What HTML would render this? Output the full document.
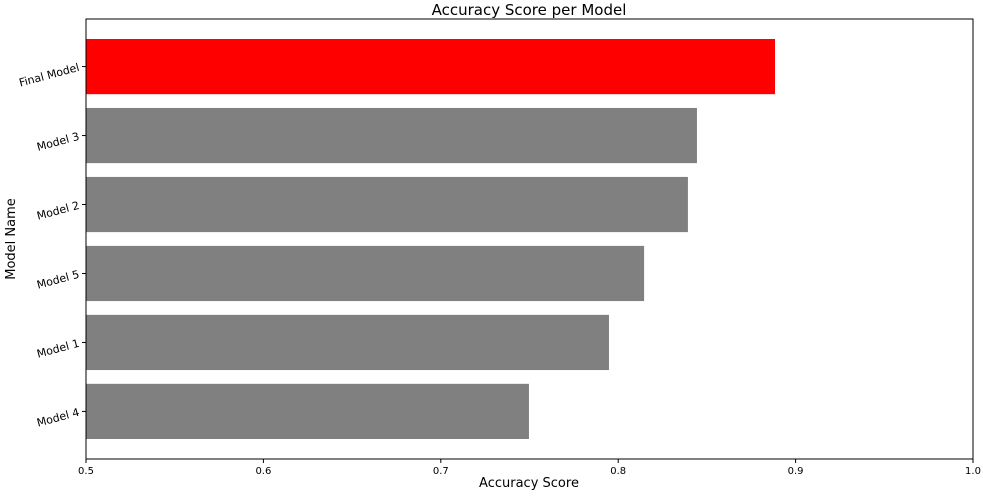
<!DOCTYPE html>
<html><head><meta charset="utf-8"><style>
body{margin:0;background:#fff;}
svg text{font-family:"DejaVu Sans","Liberation Sans",sans-serif;fill:#000;}
</style></head><body>
<svg id="chart" width="983" height="495">
<text x="529" y="15" text-anchor="middle" font-size="15">Accuracy Score per Model</text>
<text x="529" y="487" text-anchor="middle" font-size="13">Accuracy Score</text>
<text transform="translate(15,239) rotate(-90)" text-anchor="middle" font-size="13">Model Name</text>
<g id="bars"></g>
<g id="xticks"></g>
<g id="yticks"></g>
<rect x="86" y="19" width="887" height="440" fill="none" stroke="#000" stroke-width="1"/>
</svg>
<script>
const categories = ["Model 4","Model 1","Model 5","Model 2","Model 3","Final Model"];
const scores = [0.7497,0.7948,0.8146,0.8393,0.8444,0.8884];
const barColors = ["gray","gray","gray","gray","gray","red"];
const xTickLabels = ["0.5","0.6","0.7","0.8","0.9","1.0"];
const xTickValues = [0.5,0.6,0.7,0.8,0.9,1.0];
const NS="http://www.w3.org/2000/svg";
const L=86,R=973,T=19,B=459;
const xs=v=>L+(v-0.5)/(1.0-0.5)*(R-L);
const yMin=-0.69,yMax=categories.length-1+0.69;
const ys=i=>B-(i-yMin)/(yMax-yMin)*(B-T);
const unit=(B-T)/(yMax-yMin);
const bars=document.getElementById('bars');
categories.forEach((c,i)=>{
  const r=document.createElementNS(NS,'rect');
  r.setAttribute('x',xs(0.5));
  r.setAttribute('y',ys(i)-0.4*unit);
  r.setAttribute('width',xs(scores[i])-xs(0.5));
  r.setAttribute('height',0.8*unit);
  r.setAttribute('fill',barColors[i]);
  
  
  bars.appendChild(r);
  const yt=document.getElementById('yticks');
  const tk=document.createElementNS(NS,'line');
  tk.setAttribute('x1',L-4);tk.setAttribute('x2',L);tk.setAttribute('y1',ys(i));tk.setAttribute('y2',ys(i));tk.setAttribute('stroke','#000');
  
  
  yt.appendChild(tk);
  const t=document.createElementNS(NS,'text');
  t.setAttribute('transform','translate('+(L-6)+','+(ys(i)+4)+') rotate(-15)');
  t.setAttribute('text-anchor','end');t.setAttribute('font-size','11');
  t.textContent=c;
  
  
  yt.appendChild(t);
});
const xt=document.getElementById('xticks');
xTickValues.forEach((v,i)=>{
  const tk=document.createElementNS(NS,'line');
  tk.setAttribute('x1',xs(v));tk.setAttribute('x2',xs(v));tk.setAttribute('y1',B);tk.setAttribute('y2',B+4);tk.setAttribute('stroke','#000');
  
  
  xt.appendChild(tk);
  const t=document.createElementNS(NS,'text');
  t.setAttribute('x',xs(v));t.setAttribute('y',B+15);t.setAttribute('text-anchor','middle');t.setAttribute('font-size','10');
  t.textContent=xTickLabels[i];
  
  
  xt.appendChild(t);
});
</script>
</body></html>
